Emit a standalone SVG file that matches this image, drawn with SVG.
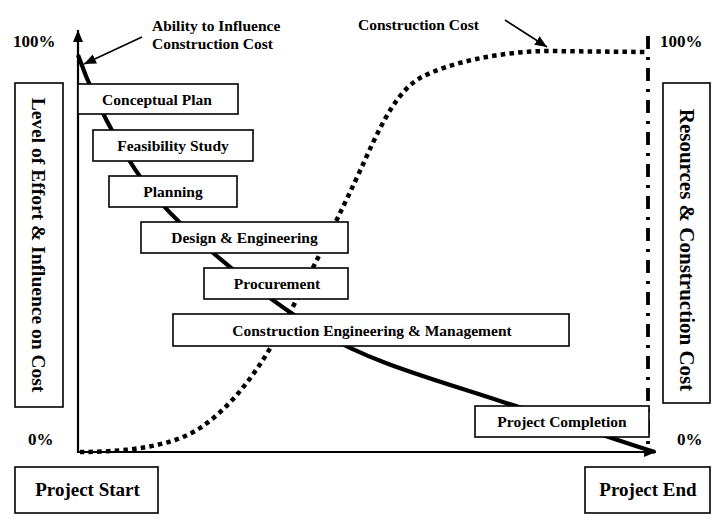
<svg xmlns="http://www.w3.org/2000/svg" width="718" height="528" viewBox="0 0 718 528">
<style>
.box{fill:#fff;stroke:#000;stroke-width:1.6}
.t{font-family:"Liberation Serif","Times New Roman",serif;font-weight:bold;fill:#000}
.lbl{font-size:15.5px;text-anchor:middle}
.big{font-size:19px;text-anchor:middle}
.pct{font-size:17px}
.vert{text-anchor:middle}
.axis{fill:none;stroke:#000;stroke-width:2.2}
.ptr{fill:none;stroke:#000;stroke-width:1.6}
</style>
<defs>
<marker id="ah" markerUnits="userSpaceOnUse" markerWidth="14" markerHeight="12" refX="12" refY="5" orient="auto">
<path d="M0,0 L12,5 L0,10 Z" fill="#000"/>
</marker>
<marker id="ax" markerUnits="userSpaceOnUse" markerWidth="14" markerHeight="12" refX="12" refY="5" orient="auto">
<path d="M0,0 L12,5 L0,10 Z" fill="#000"/>
</marker>
</defs>
<rect width="718" height="528" fill="#fff"/>
<g id="connectors">
<line class="axis" x1="78" y1="453" x2="78" y2="30" marker-end="url(#ax)"/>
<line class="axis" x1="77" y1="452" x2="656" y2="452" marker-end="url(#ax)"/>
<path id="influence-curve" d="M78,55 C86,78 100,110 120,145 C140,180 160,205 190,232 C225,265 270,300 320,332 C370,362 430,378 500,401 C560,420 610,438 655,452" fill="none" stroke="#000" stroke-width="4.2"/>
<path id="cost-curve" d="M80,452 C120,452 170,448 200,428 C230,408 255,375 275,340 C300,295 340,215 365,160 C385,115 400,90 420,78 C450,62 500,52 545,51 L645,52" fill="none" stroke="#000" stroke-width="4.5" stroke-dasharray="4.5 4.2"/>
<line id="end-line" x1="648" y1="36" x2="648" y2="450" stroke="#000" stroke-width="3.8" stroke-dasharray="13 8 3 8"/>
<line class="ptr" x1="142" y1="37" x2="84" y2="64" marker-end="url(#ah)"/>
<line class="ptr" x1="505" y1="20" x2="547" y2="47" marker-end="url(#ah)"/>
</g>
<g id="annotations">
<text class="t pct" x="13" y="47">100%</text>
<text class="t pct" x="660" y="47">100%</text>
<text class="t pct" x="28" y="445">0%</text>
<text class="t pct" x="677" y="445">0%</text>
<text class="t" x="152" y="31" font-size="15.5">Ability to Influence</text>
<text class="t" x="152" y="49" font-size="15.5">Construction Cost</text>
<text class="t" x="358" y="30" font-size="15.5">Construction Cost</text>
</g>
<g id="left-axis-label">
<rect class="box" x="15" y="83" width="48" height="324"/>
<text class="t vert" transform="translate(39,245) rotate(90)" y="7" font-size="19.5">Level of Effort &amp; Influence on Cost</text>
</g>
<g id="right-axis-label">
<rect class="box" x="663" y="83" width="47" height="320"/>
<text class="t vert" transform="translate(686.5,250) rotate(90)" y="7" font-size="21">Resources &amp; Construction Cost</text>
</g>
<g id="conceptual-plan">
<rect class="box" x="78" y="84" width="160" height="30"/>
<text class="t lbl" x="157" y="104.5">Conceptual Plan</text>
</g>
<g id="feasibility-study">
<rect class="box" x="93" y="130" width="160" height="31"/>
<text class="t lbl" x="173" y="151">Feasibility Study</text>
</g>
<g id="planning">
<rect class="box" x="109" y="176" width="128" height="31"/>
<text class="t lbl" x="173" y="197">Planning</text>
</g>
<g id="design-engineering">
<rect class="box" x="141" y="222" width="207" height="31"/>
<text class="t lbl" x="244.5" y="243">Design &amp; Engineering</text>
</g>
<g id="procurement">
<rect class="box" x="204" y="268" width="144" height="31"/>
<text class="t lbl" x="277" y="289">Procurement</text>
</g>
<g id="construction-engineering-management">
<rect class="box" x="173" y="314" width="396" height="32"/>
<text class="t lbl" x="372" y="335.5">Construction Engineering &amp; Management</text>
</g>
<g id="project-completion">
<rect class="box" x="475" y="406" width="174" height="31"/>
<text class="t lbl" x="562" y="427">Project Completion</text>
</g>
<g id="project-start">
<rect class="box" x="15" y="467" width="143" height="46"/>
<text class="t big" x="87.5" y="496">Project Start</text>
</g>
<g id="project-end">
<rect class="box" x="585" y="467" width="125" height="46"/>
<text class="t big" x="648" y="496">Project End</text>
</g>
</svg>
